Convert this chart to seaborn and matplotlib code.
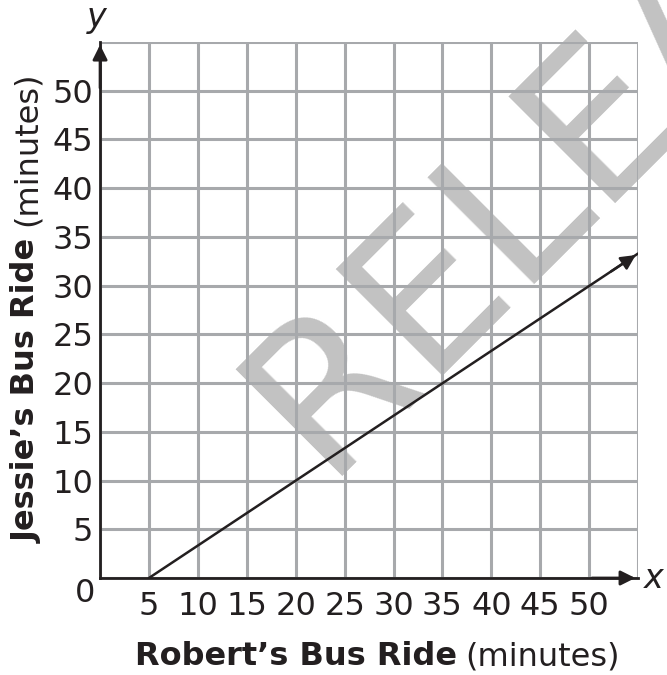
import matplotlib
matplotlib.use("Agg")
import matplotlib.pyplot as plt
import seaborn as sns
import pandas as pd

# data
robert = [5, 55]
jessie = [0, 33.3]
ticks = list(range(0, 60, 5))
x_labels = ["", "5", "10", "15", "20", "25", "30", "35", "40", "45", "50", ""]
y_labels = ["", "5", "10", "15", "20", "25", "30", "35", "40", "45", "50", ""]

df = pd.DataFrame({"robert": robert, "jessie": jessie})

sns.set_style("white")
plt.rcParams["font.family"] = ["DejaVu Sans"]
ink = "#231f20"
plt.rcParams["text.color"] = ink
plt.rcParams["xtick.color"] = ink
plt.rcParams["ytick.color"] = ink

fig = plt.figure(figsize=(6.67, 6.75), dpi=100)
ax = fig.add_axes([0.150, 0.1437, 0.8066, 0.794])

grid_col = "#a7a9ac"
ax.set_xlim(0, 55)
ax.set_ylim(0, 55)
ax.set_xticks(ticks)
ax.set_yticks(ticks)
ax.set_xticklabels(x_labels, fontsize=23)
ax.set_yticklabels(y_labels, fontsize=23)
ax.tick_params(length=0, pad=5)
ax.tick_params(axis="x", pad=9)
ax.set_axisbelow(True)
ax.grid(True, color=grid_col, lw=2.2)
for s in ["top", "right"]:
    ax.spines[s].set_visible(False)
for s in ["left", "bottom"]:
    ax.spines[s].set_color(ink)
    ax.spines[s].set_linewidth(2)
    ax.spines[s].set_zorder(4)

# axis arrows
ax.annotate("", xy=(55, 0), xytext=(50, 0),
            arrowprops=dict(arrowstyle="-|>", color=ink, lw=2, mutation_scale=22),
            annotation_clip=False, zorder=5)
ax.annotate("", xy=(0, 55), xytext=(0, 50),
            arrowprops=dict(arrowstyle="-|>", color=ink, lw=2, mutation_scale=22),
            annotation_clip=False, zorder=5)

# watermark (under the grid)
ax.text(0.4843, 0.2948, "RELEASED", transform=fig.transFigure, rotation=45,
        rotation_mode="anchor", ha="left", va="baseline", fontsize=148,
        color="#c2c2c2", zorder=0.3, clip_on=False)

# data line
sns.lineplot(data=df, x="robert", y="jessie", color=ink, lw=1.8, ax=ax, zorder=3)
ax.annotate("", xy=(robert[1], jessie[1]), xytext=(robert[1] - 3, jessie[1] - 2),
            arrowprops=dict(arrowstyle="-|>", color=ink, lw=1.8, mutation_scale=22),
            annotation_clip=False, zorder=5)

ax.set_xlabel("")
ax.set_ylabel("")

# labels
fig.text(85 / 667, 1 - 593 / 675, "0", fontsize=23, ha="center", va="center")
fig.text(97 / 667, 1 - 18 / 675, "y", fontsize=24, style="italic", ha="center", va="center")
fig.text(654 / 667, 1 - 579 / 675, "x", fontsize=24, style="italic", ha="center", va="center")

fig.text(457 / 667, 1 - 665 / 675, "Robert\u2019s Bus Ride", fontsize=23, fontweight="bold",
         ha="right", va="baseline")
fig.text(465 / 667, 1 - 665 / 675, "(minutes)", fontsize=23, ha="left", va="baseline")

fig.text(27 / 667, 1 - 239 / 675, "Jessie\u2019s Bus Ride", fontsize=23, fontweight="bold",
         rotation=90, ha="center", va="top")
fig.text(27 / 667, 1 - 226 / 675, "(minutes)", fontsize=23, rotation=90,
         ha="center", va="bottom")

fig.savefig("out.png", dpi=100)
